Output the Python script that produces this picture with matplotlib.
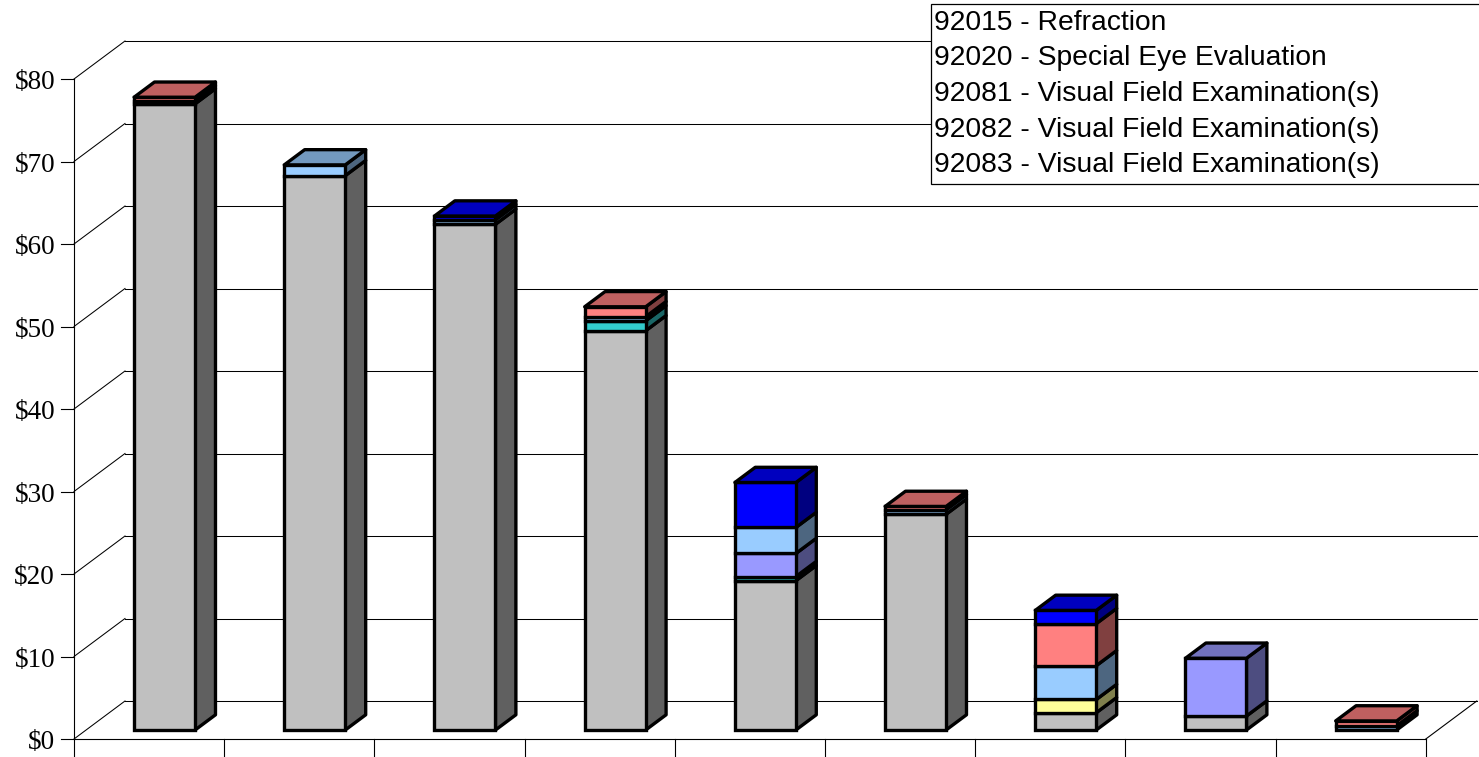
import matplotlib
matplotlib.use("Agg")
import matplotlib.pyplot as plt
from matplotlib.patches import Polygon, Rectangle
import numpy as np

# ---------------- data ----------------
categories = ["1", "2", "3", "4", "5", "6", "7", "8", "9"]
series_names = ["92015 - Refraction",
                "92020 - Special Eye Evaluation",
                "92081 - Visual Field Examination(s)",
                "92082 - Visual Field Examination(s)",
                "92083 - Visual Field Examination(s)",
                "Other A", "Other B"]
s_gray     = [75.9, 67.2, 61.3, 48.4, 18.1, 26.15, 2.1, 1.7, 0.0]
s_teal     = [0.0, 0.0, 0.0, 1.2, 0.5, 0.0, 0.0, 0.0, 0.0]
s_lavender = [0.0, 0.0, 0.0, 0.0, 2.8, 0.0, 0.0, 7.0, 0.0]
s_yellow   = [0.0, 0.0, 0.0, 0.0, 0.0, 0.0, 1.6, 0.0, 0.0]
s_ltblue   = [0.35, 1.3, 0.55, 0.5, 3.15, 0.55, 4.1, 0.0, 0.5]
s_salmon   = [0.45, 0.0, 0.0, 1.2, 0.0, 0.4, 5.1, 0.0, 0.6]
s_blue     = [0.0, 0.0, 0.45, 0.0, 5.45, 0.0, 1.6, 0.0, 0.0]
series_values = [s_gray, s_teal, s_lavender, s_yellow, s_ltblue, s_salmon, s_blue]
series_colors = ["#C0C0C0", "#33CCCC", "#9999FF", "#FFFF99", "#99CCFF", "#FF8080", "#0000FF"]
legend_labels = series_names[:5]
y_ticks = [0, 10, 20, 30, 40, 50, 60, 70, 80]

# ---------------- geometry (oblique projection) ----------------
W, H = 1479, 757
X0_PX, Y0_PX = 74, 739          # front-plane origin (pixels)
CAT_PX = 150.2                  # pixels per category
VAL_PX = 8.25                   # pixels per dollar
DX = 51 / CAT_PX                # depth offset (category units) for full depth
DY = 38 / VAL_PX                # depth offset (dollar units) for full depth

fig = plt.figure(figsize=(W / 100, H / 100), dpi=100)
ax = fig.add_axes([0, 0, 1, 1])
ax.set_xlim(-X0_PX / CAT_PX, (W - X0_PX) / CAT_PX)
ax.set_ylim((Y0_PX - H) / VAL_PX, Y0_PX / VAL_PX)
ax.axis("off")

def P(x, v, z):
    return (x + z * DX, v + z * DY)

ncat = len(categories)
vmax = y_ticks[-1]

# back wall gridlines and left wall diagonals
for t in y_ticks:
    ax.plot([P(0, t, 1)[0], P(ncat, t, 1)[0]], [P(0, t, 1)[1], P(ncat, t, 1)[1]],
            color="black", lw=0.75, zorder=1)
    ax.plot([P(0, t, 0)[0], P(0, t, 1)[0]], [P(0, t, 0)[1], P(0, t, 1)[1]],
            color="black", lw=0.75, zorder=1)
    # tick mark + label
    ax.plot([-13 / CAT_PX, 0], [t, t], color="black", lw=0.8, zorder=1)
    ax.text(-19 / CAT_PX, t - 0.45, f"${t}", ha="right", va="center",
            fontsize=19.5, family="Liberation Serif", zorder=3)

# vertical front axis line
ax.plot([0, 0], [0, vmax], color="black", lw=0.8, zorder=1)
# floor outline
ax.plot([0, ncat], [0, 0], color="black", lw=0.8, zorder=1)
ax.plot([P(ncat, 0, 0)[0], P(ncat, 0, 1)[0]], [0, DY], color="black", lw=0.8, zorder=1)
# category ticks
for i in range(ncat + 1):
    ax.plot([i, i], [0, -17 / VAL_PX], color="black", lw=0.8, zorder=1)

# bars
bar_off = 48 / CAT_PX
bar_w = 61 / CAT_PX
z0, z1 = 0.237, 0.637

def shade(c, f):
    r, g, b = matplotlib.colors.to_rgb(c)
    return (r * f, g * f, b * f)

lw = 2.4
for i in range(ncat):
    xl = i + bar_off
    xr = xl + bar_w
    base = 0.0
    top_color = None
    for vals, col in zip(series_values, series_colors):
        v = vals[i]
        if v <= 0:
            continue
        lo, hi = base, base + v
        front = [P(xl, lo, z0), P(xr, lo, z0), P(xr, hi, z0), P(xl, hi, z0)]
        side = [P(xr, lo, z0), P(xr, lo, z1), P(xr, hi, z1), P(xr, hi, z0)]
        ax.add_patch(Polygon(side, closed=True, facecolor=shade(col, 0.5),
                             edgecolor="black", lw=lw, joinstyle="round", zorder=4))
        ax.add_patch(Polygon(front, closed=True, facecolor=col,
                             edgecolor="black", lw=lw, joinstyle="miter", zorder=4))
        base = hi
        top_color = col
    if top_color is not None:
        topf = [P(xl, base, z0), P(xr, base, z0), P(xr, base, z1), P(xl, base, z1)]
        ax.add_patch(Polygon(topf, closed=True, facecolor=shade(top_color, 0.75),
                             edgecolor="black", lw=lw, joinstyle="round", zorder=4))

# legend box (text only, clipped at the right edge)
lx = (931 - X0_PX) / CAT_PX
ly_top = (Y0_PX - 4) / VAL_PX
ly_bot = (Y0_PX - 184) / VAL_PX
ax.add_patch(Rectangle((lx, ly_bot), 10, ly_top - ly_bot, facecolor="white",
                       edgecolor="black", lw=0.9, zorder=5))
for k, lab in enumerate(legend_labels):
    by = (Y0_PX - (29.5 + k * 35.75)) / VAL_PX
    ax.text((934 - X0_PX) / CAT_PX, by, lab, ha="left", va="baseline",
            fontsize=20.3, family="Liberation Sans", zorder=6)

fig.savefig("out.png", dpi=100)
